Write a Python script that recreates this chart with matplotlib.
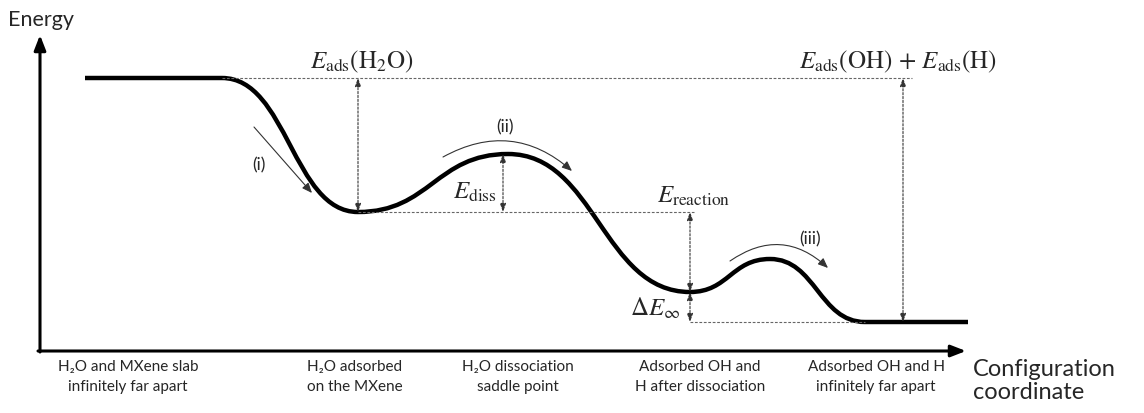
import matplotlib
matplotlib.use('Agg')
import matplotlib.pyplot as plt
from matplotlib.path import Path
import matplotlib.patches as patches

plt.rcParams['font.family'] = ['Lato', 'DejaVu Sans']
plt.rcParams['mathtext.fontset'] = 'stix'

# stationary points of the schematic energy profile
# (configuration coordinate, energy above the baseline)
node_x = [85, 222, 358, 508, 690, 770, 865, 968]
node_E = [273, 273, 139, 197, 59, 92, 29, 29]

stage_labels = ['H\u2082O and MXene slab\ninfinitely far apart',
                'H\u2082O adsorbed\non the MXene',
                'H\u2082O dissociation\nsaddle point',
                'Adsorbed OH and\nH after dissociation',
                'Adsorbed OH and H\ninfinitely far apart']
stage_x = [128, 355, 518, 700, 876]

E_far, E_ads, E_ts, E_dis, E_ts2, E_fin = 273, 139, 197, 59, 92, 29

fig = plt.figure(figsize=(11.44, 4.14), dpi=100)
ax = fig.add_axes([0, 0, 1, 1])
ax.set_xlim(0, 1144)
ax.set_ylim(-62, 352)
ax.axis('off')

ink = '#262626'

# axes arrows
ax.annotate('', xy=(40, 316), xytext=(40, -1),
            arrowprops=dict(arrowstyle='-|>,head_length=0.9,head_width=0.35',
                            lw=2.2, color='black', shrinkA=0, shrinkB=0))
ax.annotate('', xy=(966, 0), xytext=(38, 0),
            arrowprops=dict(arrowstyle='-|>,head_length=0.9,head_width=0.35',
                            lw=2.2, color='black', shrinkA=0, shrinkB=0))

# energy profile as cubic beziers with flat tangents at each node
verts = [(node_x[0], node_E[0])]
codes = [Path.MOVETO]
for i in range(len(node_x) - 1):
    x0, y0, x1, y1 = node_x[i], node_E[i], node_x[i + 1], node_E[i + 1]
    if y0 == y1:
        verts += [(x1, y1)]
        codes += [Path.LINETO]
        continue
    d = (x1 - x0) * 0.48
    verts += [(x0 + d, y0), (x1 - d, y1), (x1, y1)]
    codes += [Path.CURVE4] * 3
ax.add_patch(patches.PathPatch(Path(verts, codes), fill=False, lw=3.2,
                               color='black', capstyle='butt', joinstyle='round'))

# dashed reference levels
dash = dict(color='#666666', lw=0.8, ls=(0, (2.5, 1.5)))
ax.plot([222, 912], [E_far, E_far], **dash)
ax.plot([358, 694], [E_ads, E_ads], **dash)
ax.plot([690, 865], [E_fin, E_fin], **dash)

def vdim(x, y0, y1):
    ax.annotate('', xy=(x, y1), xytext=(x, y0),
                arrowprops=dict(arrowstyle='<|-|>,head_length=0.5,head_width=0.18',
                                lw=0.8, ls=(0, (2, 1.5)), color='#333333',
                                shrinkA=0, shrinkB=0))

vdim(358, E_ads, E_far)
vdim(503, E_ads, E_ts)
vdim(690, E_dis, E_ads)
vdim(690, E_fin, E_dis)
vdim(903, E_fin, E_far)

# process arrows
thin = dict(arrowstyle='-|>,head_length=0.6,head_width=0.25', lw=0.8,
            color='#333333', shrinkA=0, shrinkB=0)
ax.annotate('', xy=(312, 158), xytext=(254, 224), arrowprops=thin)
ax.annotate('', xy=(572, 180), xytext=(443, 194),
            arrowprops=dict(thin, connectionstyle='arc3,rad=-0.35'))
ax.annotate('', xy=(828, 83), xytext=(730, 90),
            arrowprops=dict(thin, connectionstyle='arc3,rad=-0.4'))

txt = dict(fontsize=12.5, color=ink, ha='center', va='center')
ax.text(259, 187, '(i)', **txt)
ax.text(505, 225, '(ii)', **txt)
ax.text(810, 113, '(iii)', **txt)

m = dict(fontsize=18, color=ink, ha='center', va='center')
ax.text(362, 290, r'$E_{\mathrm{ads}}(\mathrm{H_2O})$', **m)
ax.text(898, 290, r'$E_{\mathrm{ads}}(\mathrm{OH})\,+\,E_{\mathrm{ads}}(\mathrm{H})$', **m)
ax.text(475, 160, r'$E_{\mathrm{diss}}$', **m)
ax.text(694, 156, r'$E_{\mathrm{reaction}}$', **m)
ax.text(655, 44, r'$\Delta E_{\infty}$', **m)

ax.text(8, 332, 'Energy', fontsize=15.5, color=ink, ha='left', va='center')
for x, lab in zip(stage_x, stage_labels):
    ax.text(x, -25, lab, fontsize=11, color=ink, ha='center', va='center',
            linespacing=1.5)
ax.text(973, -29, 'Configuration\ncoordinate', fontsize=17, color=ink,
        ha='left', va='center', linespacing=1.15)

fig.savefig('out.png', dpi=100)
